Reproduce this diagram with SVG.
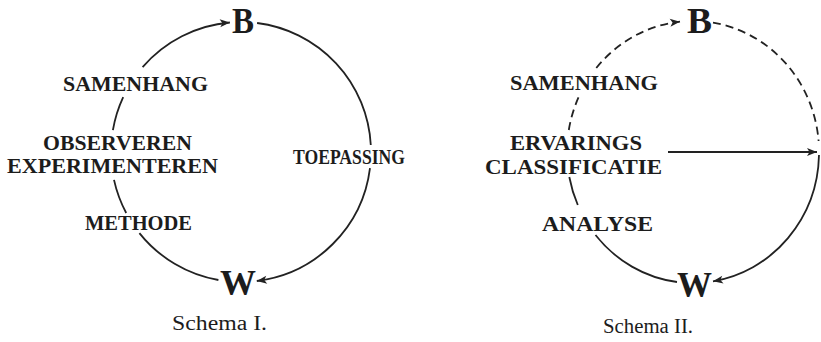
<svg xmlns="http://www.w3.org/2000/svg" width="821" height="342" viewBox="0 0 821 342">
<style>
.lbl{font-family:"Liberation Serif","DejaVu Serif",serif;font-weight:bold;font-size:21px;fill:#1c1c1c}
.big{font-family:"Liberation Serif","DejaVu Serif",serif;font-weight:bold;font-size:36px;fill:#1c1c1c}
.cap{font-family:"Liberation Serif","DejaVu Serif",serif;font-size:20px;fill:#1c1c1c}
.ln{fill:none;stroke:#222;stroke-width:1.8}
.ds{stroke-dasharray:8 5}
</style>
<defs>
<marker id="ah" markerUnits="userSpaceOnUse" markerWidth="11" markerHeight="9" refX="10" refY="4" orient="auto" overflow="visible">
<path d="M0,0 L10,4 L0,8 L2.5,4 z" fill="#222"/>
</marker>
</defs>
<rect width="821" height="342" fill="#fff"/>
<g id="connectors">
<path class="ln" d="M218.4,280 A130,130 0 0 1 139.4,233.1"/>
<path class="ln" d="M126.2,213 A130,130 0 0 1 114,179.9"/>
<path class="ln" d="M112.9,130.1 A130,130 0 0 1 123.2,97.1"/>
<path class="ln" d="M142.6,67.1 A130,130 0 0 1 229.9,22.5" marker-end="url(#ah)"/>
<path class="ln" d="M257.1,23 A130,130 0 0 1 370.8,145"/>
<path class="ln" d="M370,168.1 A130,130 0 0 1 256.8,281" marker-end="url(#ah)"/>
<path class="ln" d="M677,282 A126,131 0 0 1 595.5,235"/>
<path class="ln" d="M577.8,205 A126,131 0 0 1 569.3,177"/>
<path class="ln ds" d="M568.8,130 A126,131 0 0 1 579.6,95"/>
<path class="ln ds" d="M596.3,68 A126,131 0 0 1 680,21.7" marker-end="url(#ah)"/>
<path class="ln ds" d="M713,22.7 A126,131 0 0 1 818.6,141"/>
<path class="ln" d="M819,155 A126,131 0 0 1 713,281.3" marker-end="url(#ah)"/>
<path class="ln" d="M668,152 L817,152" marker-end="url(#ah)"/>
</g>
<g id="schema1">
<g id="s1-B"><text class="big" x="232" y="33" textLength="22" lengthAdjust="spacingAndGlyphs">B</text></g>
<g id="s1-W"><text class="big" x="220" y="295" textLength="36" lengthAdjust="spacingAndGlyphs">W</text></g>
<g id="s1-samenhang"><text class="lbl" x="63" y="91" textLength="145" lengthAdjust="spacingAndGlyphs">SAMENHANG</text></g>
<g id="s1-observeren"><text class="lbl" x="43" y="149.5" textLength="149" lengthAdjust="spacingAndGlyphs">OBSERVEREN</text>
<text class="lbl" x="7" y="173" textLength="211" lengthAdjust="spacingAndGlyphs">EXPERIMENTEREN</text></g>
<g id="s1-methode"><text class="lbl" x="85" y="230" textLength="107" lengthAdjust="spacingAndGlyphs">METHODE</text></g>
<g id="s1-toepassing"><text class="lbl" x="293" y="164" textLength="112" lengthAdjust="spacingAndGlyphs">TOEPASSING</text></g>
<g id="s1-caption"><text class="cap" x="172" y="330" textLength="95" lengthAdjust="spacingAndGlyphs">Schema I.</text></g>
</g>
<g id="schema2">
<g id="s2-B"><text class="big" x="687" y="33" textLength="25" lengthAdjust="spacingAndGlyphs">B</text></g>
<g id="s2-W"><text class="big" x="677" y="297" textLength="35" lengthAdjust="spacingAndGlyphs">W</text></g>
<g id="s2-samenhang"><text class="lbl" x="510" y="90" textLength="148" lengthAdjust="spacingAndGlyphs">SAMENHANG</text></g>
<g id="s2-ervarings"><text class="lbl" x="510" y="150" textLength="132" lengthAdjust="spacingAndGlyphs">ERVARINGS</text>
<text class="lbl" x="485" y="173.5" textLength="177" lengthAdjust="spacingAndGlyphs">CLASSIFICATIE</text></g>
<g id="s2-analyse"><text class="lbl" x="542" y="231" textLength="111" lengthAdjust="spacingAndGlyphs">ANALYSE</text></g>
<g id="s2-caption"><text class="cap" x="603" y="333" textLength="90" lengthAdjust="spacingAndGlyphs">Schema II.</text></g>
</g>
</svg>
